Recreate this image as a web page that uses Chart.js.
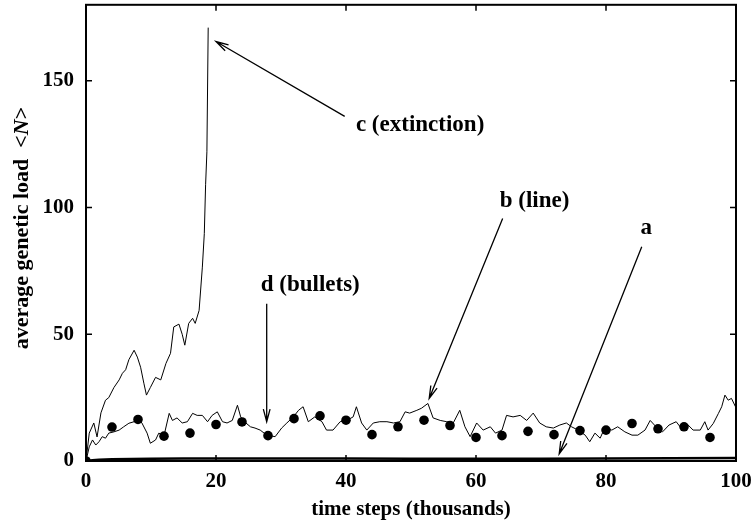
<!DOCTYPE html>
<html>
<head>
<meta charset="utf-8">
<script src="https://cdn.jsdelivr.net/npm/chart.js@4.4.0/dist/chart.umd.min.js"></script>
<style>
  html, body { margin: 0; padding: 0; background: #fff; }
  #wrap { width: 753px; height: 527px; }
</style>
</head>
<body>
<div id="wrap"><canvas id="loadChart"></canvas></div>
<script>
// tick labels
const xTicks = [0, 20, 40, 60, 80, 100];
const yTicks = [0, 50, 100, 150];

// a: thick line near zero
const aX = [0, 1, 2, 4, 7, 10, 15, 20, 30, 40, 50, 60, 70, 80, 90, 100];
const aY = [0, 0.3, 0.5, 0.7, 0.8, 0.9, 1.0, 1.0, 1.0, 1.0, 0.9, 0.9, 0.9, 1.0, 1.1, 1.2];

// b: noisy line
const bX = [0, 0.5, 1, 1.5, 2, 2.5, 3, 3.5, 4.3, 5.1, 5.8, 6.6, 7.4, 7.9, 8.6, 9.4, 9.9, 10.7, 11.2, 12, 12.8, 13.3, 14, 14.8, 15.6, 16.4, 17.1, 17.9, 18.7, 19.4, 20.2, 21, 21.7, 22.5, 23.3, 23.8, 24.6, 25.3, 26, 26.8, 27.8, 29.1, 30.1, 30.9, 31.9, 32.7, 33.4, 34.2, 35.2, 36.3, 37, 38, 39.1, 40.1, 41.1, 41.6, 42.4, 43.2, 44.2, 45.2, 46.3, 47.3, 48.3, 49.1, 49.8, 50.9, 51.6, 52.6, 53.4, 54.5, 55.5, 56.5, 57.5, 58.3, 59.1, 60.1, 61.1, 62.2, 63, 64, 64.7, 65.7, 66.8, 67.8, 68.8, 69.8, 70.8, 71.9, 72.9, 73.9, 74.7, 75.7, 76.8, 77.5, 78.3, 79.1, 79.8, 80.9, 81.8, 82.9, 84, 84.9, 86, 86.8, 87.7, 88.7, 89.7, 90.8, 91.4, 92.4, 93.4, 94.5, 95.2, 95.7, 96.5, 97.3, 97.8, 98.3, 98.8, 99.3, 100];
const bY = [0, 5.6, 8.3, 6.3, 7.6, 9.6, 9, 11, 11.5, 12.2, 13.5, 14.9, 15.5, 17, 15, 11, 7, 8.3, 11, 10, 18.8, 16, 17, 15, 15.5, 18.8, 18, 18, 15.5, 18, 19.4, 15.5, 15, 16, 22, 17.4, 15, 13.5, 13, 12.2, 10.2, 9.6, 13, 15, 17.4, 20, 21.4, 15.5, 17.4, 15.5, 12.2, 12.2, 15.5, 16, 17.4, 21.4, 15, 12.2, 15, 15.5, 15.5, 15, 15.5, 19.4, 18.9, 20, 20.8, 22.7, 17, 16, 15.5, 15, 20, 13.5, 9.6, 15, 12.2, 13.5, 11, 12.2, 18, 17.4, 18, 16, 18.9, 15, 13.5, 13, 14.2, 15, 13.5, 12.2, 10.2, 7.6, 11, 9, 13, 12.2, 13.5, 11.5, 10.2, 10.2, 12.2, 16, 13.5, 11.5, 14.2, 15.5, 13.5, 14.8, 12.2, 12.2, 15.5, 12.2, 14.8, 18.8, 21.4, 26, 24, 24.7, 21];

// c: extinction run
const cX = [0, 0.5, 1.2, 1.7, 2.3, 3, 3.5, 4.3, 5.1, 5.6, 6.1, 6.6, 7.4, 7.9, 8.4, 8.9, 9.3, 9.9, 10.7, 11.5, 12.3, 13, 13.5, 14.3, 14.8, 15.2, 15.8, 16.4, 16.8, 17.4, 17.9, 18.2, 18.4, 18.6, 18.8];
const cY = [0, 11, 15, 9.5, 19, 24, 25, 29, 32, 34.6, 36, 40, 43.7, 41, 37, 30.7, 26, 29, 33, 32, 38.5, 42.5, 52.9, 54, 50, 45.7, 54.3, 56.3, 54.3, 59.4, 76.5, 89.7, 109, 122, 171];

// d: bullets
const dX = [0, 4, 8, 12, 16, 20, 24, 28, 32, 36, 40, 44, 48, 52, 56, 60, 64, 68, 72, 76, 80, 84, 88, 92, 96];
const dY = [0, 13.4, 16.4, 9.8, 11, 14.4, 15.4, 10, 16.7, 17.8, 16.1, 10.4, 13.5, 16.1, 14, 9.3, 10, 11.7, 10.4, 12, 12.2, 14.8, 12.7, 13.5, 9.3];

// annotation labels and arrows (data coordinates)
const labels = [
  { text: 'c (extinction)', x: 51.4, y: 132.5 },
  { text: 'b (line)', x: 69.0, y: 102.5 },
  { text: 'd (bullets)', x: 34.5, y: 69.5 },
  { text: 'a', x: 86.2, y: 92.0 }
];
const arrows = [
  { from: [39.8, 136], to: [20.0, 165.5] },
  { from: [64.1, 95.7], to: [52.8, 24.7] },
  { from: [27.8, 62.0], to: [27.8, 15.5] },
  { from: [85.5, 84.5], to: [72.8, 2.8] }
];

const pts = (xs, ys) => xs.map((x, i) => ({ x: x, y: ys[i] }));
const SERIF = '"Liberation Serif", "Times New Roman", serif';

const decorPlugin = {
  id: 'decor',
  afterDraw(chart) {
    const ctx = chart.ctx;
    const xs = chart.scales.x, ys = chart.scales.y;
    const area = chart.chartArea;
    ctx.save();
    // frame
    ctx.strokeStyle = '#000';
    ctx.lineWidth = 2;
    ctx.strokeRect(area.left, area.top, area.right - area.left, area.bottom - area.top);
    // inward ticks on all sides
    ctx.lineWidth = 1.5;
    ctx.beginPath();
    xTicks.forEach(v => {
      const px = xs.getPixelForValue(v);
      ctx.moveTo(px, area.bottom); ctx.lineTo(px, area.bottom - 6);
      ctx.moveTo(px, area.top); ctx.lineTo(px, area.top + 6);
    });
    yTicks.forEach(v => {
      const py = ys.getPixelForValue(v);
      ctx.moveTo(area.left, py); ctx.lineTo(area.left + 6, py);
      ctx.moveTo(area.right, py); ctx.lineTo(area.right - 6, py);
    });
    ctx.stroke();

    // arrows
    ctx.lineWidth = 1.3;
    arrows.forEach(a => {
      const x1 = xs.getPixelForValue(a.from[0]), y1 = ys.getPixelForValue(a.from[1]);
      const x2 = xs.getPixelForValue(a.to[0]), y2 = ys.getPixelForValue(a.to[1]);
      const ang = Math.atan2(y2 - y1, x2 - x1);
      const len = 13, spread = Math.PI / 12;
      ctx.beginPath();
      ctx.moveTo(x1, y1); ctx.lineTo(x2, y2);
      ctx.moveTo(x2 - len * Math.cos(ang - spread), y2 - len * Math.sin(ang - spread));
      ctx.lineTo(x2, y2);
      ctx.lineTo(x2 - len * Math.cos(ang + spread), y2 - len * Math.sin(ang + spread));
      ctx.stroke();
    });

    // labels
    ctx.fillStyle = '#000';
    ctx.font = 'bold 23px ' + SERIF;
    ctx.textAlign = 'center';
    ctx.textBaseline = 'middle';
    labels.forEach(l => {
      ctx.fillText(l.text, xs.getPixelForValue(l.x), ys.getPixelForValue(l.y));
    });

    // x axis title
    ctx.font = 'bold 21px ' + SERIF;
    ctx.fillText('time steps (thousands)', (area.left + area.right) / 2, 510);

    // y axis title with italic N
    const parts = [
      { t: 'average genetic load  <', f: 'bold 22px ' + SERIF },
      { t: 'N', f: 'italic bold 22px ' + SERIF },
      { t: '>', f: 'bold 22px ' + SERIF }
    ];
    let total = 0;
    parts.forEach(p => { ctx.font = p.f; p.w = ctx.measureText(p.t).width; total += p.w; });
    ctx.translate(22, 228);
    ctx.rotate(-Math.PI / 2);
    ctx.textAlign = 'left';
    let cx = -total / 2;
    parts.forEach(p => { ctx.font = p.f; ctx.fillText(p.t, cx, 0); cx += p.w; });
    ctx.restore();
  }
};

const ctxEl = document.getElementById('loadChart').getContext('2d');
const loadChart = new Chart(ctxEl, {
  type: 'scatter',
  data: {
    datasets: [
      {
        label: 'd (bullets)',
        data: pts(dX, dY),
        showLine: false,
        pointRadius: 4.8,
        pointBackgroundColor: '#000',
        pointBorderWidth: 0
      },
      {
        label: 'b (line)',
        data: pts(bX, bY),
        showLine: true,
        borderColor: '#000',
        borderWidth: 1,
        pointRadius: 0,
        tension: 0
      },
      {
        label: 'c (extinction)',
        data: pts(cX, cY),
        showLine: true,
        borderColor: '#000',
        borderWidth: 1,
        pointRadius: 0,
        tension: 0
      },
      {
        label: 'a',
        data: pts(aX, aY),
        showLine: true,
        borderColor: '#000',
        borderWidth: 2.5,
        pointRadius: 0,
        tension: 0
      }
    ]
  },
  options: {
    responsive: true,
    maintainAspectRatio: false,
    animation: false,
    layout: { padding: { top: 4, right: 17, left: 0, bottom: 0 } },
    plugins: {
      legend: { display: false },
      tooltip: { enabled: false }
    },
    scales: {
      x: {
        type: 'linear',
        min: 0,
        max: 100,
        afterBuildTicks: s => { s.ticks = xTicks.map(v => ({ value: v })); },
        afterFit: s => { s.height = 66; s.paddingLeft = 0; s.paddingRight = 0; },
        grid: { display: false, drawTicks: false },
        border: { display: false },
        ticks: {
          padding: 8,
          color: '#000',
          font: { family: SERIF, size: 21, weight: 'bold' }
        }
      },
      y: {
        type: 'linear',
        min: 0,
        max: 180,
        afterBuildTicks: s => { s.ticks = yTicks.map(v => ({ value: v })); },
        afterFit: s => { s.width = 86; s.paddingTop = 0; s.paddingBottom = 0; },
        grid: { display: false, drawTicks: false },
        border: { display: false },
        ticks: {
          padding: 12,
          color: '#000',
          font: { family: SERIF, size: 21, weight: 'bold' }
        }
      }
    }
  },
  plugins: [decorPlugin]
});
</script>
</body>
</html>
